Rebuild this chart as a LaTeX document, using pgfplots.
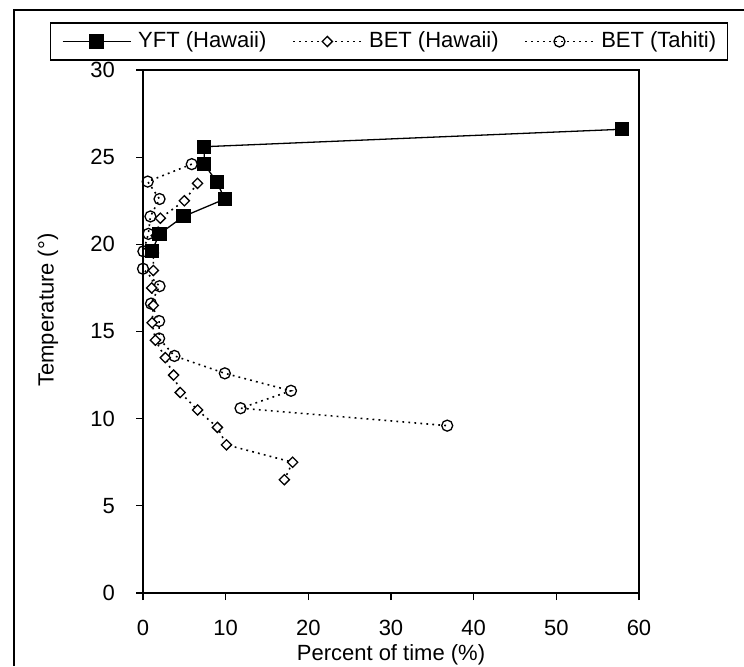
\documentclass[border=0pt]{standalone}
\usepackage{fontspec}
\setmainfont{Liberation Sans}
\usepackage{pgfplots}
\pgfplotsset{compat=1.18}

% 1 px of the reference = 0.5pt
\begin{document}
\begin{tikzpicture}[font=\fontsize{11}{13}\selectfont]
\useasboundingbox (0,0) rectangle (372pt,333pt);
% outer frame (only left and top are in the picture)
\draw[line width=0.75pt] (7pt,0pt) -- (7pt,328pt) -- (373pt,328pt);
\begin{axis}[
    at={(71.5pt,36.5pt)}, anchor=south west,
    scale only axis,
    width=248pt, height=261.5pt,
    xmin=0, xmax=60, ymin=0, ymax=30,
    xtick={0,10,...,60}, ytick={0,5,...,30},
    xtick pos=bottom, ytick pos=left,
    tick align=outside,
    major tick length=3.5pt,
    tick style={black, line width=0.6pt},
    axis line style={black, line width=0.7pt},
    /pgf/number format/assume math mode=true,
    xticklabel style={yshift=-6.5pt},
    yticklabel style={xshift=-7pt},
    xlabel={Percent of time (\%)},
    ylabel={Temperature (°)},
    xlabel style={at={(axis description cs:0.5,-0.1185)}, anchor=center},
    ylabel style={at={(axis description cs:-0.1915,0.541)}, anchor=center},
    clip=false,
    legend columns=3,
    reverse legend,
    legend style={
        at={(axis description cs:0.496,1.0545)}, anchor=center,
        draw=black, line width=0.65pt,
        inner xsep=5.75pt, inner ysep=4pt,
        nodes={inner sep=0pt, anchor=west, text depth=2pt, text height=8.5pt},
        column sep=3.5pt,
        /tikz/every even column/.append style={column sep=13pt},
    },
    legend image code/.code={
        \draw[#1, mark=none] (0pt,0pt) -- (34pt,0pt);
        \path[#1, draw=none] plot[only marks] coordinates {(17pt,0pt)};
    },
]
% BET (Tahiti)
\addplot[black, line width=0.8pt, dash pattern=on 0.9pt off 2.1pt,
    mark=o, mark size=2.75pt, mark options={solid, fill=white, line width=0.65pt}]
coordinates {
    (5.9,24.6) (0.57,23.6) (2.0,22.6) (0.9,21.6) (0.65,20.6) (0.05,19.6)
    (0.0,18.6) (2.0,17.6) (0.97,16.6) (1.95,15.6) (1.95,14.6) (3.8,13.6)
    (9.9,12.6) (17.9,11.6) (11.8,10.6) (36.8,9.6)
};
\addlegendentry{BET (Tahiti)}
% BET (Hawaii)
\addplot[black, line width=0.8pt, dash pattern=on 0.9pt off 2.1pt,
    mark=square*, mark size=1.8pt, mark options={solid, fill=white, rotate=45, line width=0.65pt}]
coordinates {
    (6.6,23.5) (5.0,22.5) (2.1,21.5) (1.6,20.5) (1.25,19.5) (1.25,18.5)
    (1.05,17.5) (1.25,16.5) (1.1,15.5) (1.5,14.5) (2.7,13.5) (3.7,12.5)
    (4.5,11.5) (6.6,10.5) (9.0,9.5) (10.1,8.5) (18.1,7.5) (17.1,6.5)
};
\addlegendentry{BET (Hawaii)}
% YFT (Hawaii)
\addplot[black, line width=0.65pt,
    mark=square*, mark size=3.2pt, mark options={solid, fill=black}]
coordinates {
    (57.9,26.6) (7.4,25.6) (7.4,24.6) (8.9,23.6) (9.9,22.6)
    (4.9,21.6) (2.0,20.6) (1.05,19.6)
};
\addlegendentry{YFT (Hawaii)}
\end{axis}
\end{tikzpicture}
\end{document}
